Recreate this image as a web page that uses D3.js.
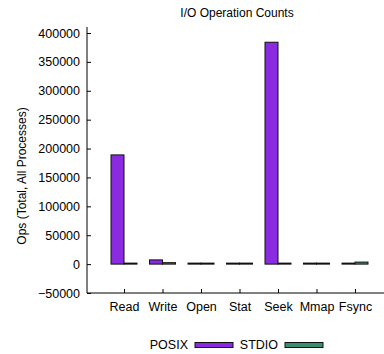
<!DOCTYPE html>
<html>
<head>
<meta charset="utf-8">
<script src="https://cdn.jsdelivr.net/npm/d3@7"></script>
<style>
  body { margin: 0; background: #fff; }
  svg { display: block; font-family: "Liberation Sans", Arial, sans-serif; }
</style>
</head>
<body>
<svg id="chart" width="384" height="354"></svg>
<script>
const categories = ['Read', 'Write', 'Open', 'Stat', 'Seek', 'Mmap', 'Fsync'];
const posixOps = [189000, 7300, 0, 0, 384000, 0, 0];
const stdioOps = [0, 2500, 0, 0, 0, 0, 3500];
const yTicks = [-50000, 0, 50000, 100000, 150000, 200000, 250000, 300000, 350000, 400000];
const seriesNames = ['POSIX', 'STDIO'];
const seriesColors = ['#8a2be2', '#3a8d6e'];

const svg = d3.select('#chart');
const W = 384;
const axisX = 87, axisY = 293;

const x = d3.scaleLinear().domain([0, categories.length - 1]).range([124, 355]);
const y = d3.scaleLinear().domain([-50000, 400000]).range([293, 33]);
const barW = 13;

// title
svg.append('text')
    .attr('x', 237).attr('y', 17)
    .attr('text-anchor', 'middle')
    .attr('font-size', 12)
    .text('I/O Operation Counts');

// y axis label
svg.append('text')
    .attr('transform', `translate(26, 176) rotate(-90)`)
    .attr('text-anchor', 'middle')
    .attr('font-size', 12)
    .text('Ops (Total, All Processes)');

// y axis, ticks point inward
const yAxis = svg.append('g').attr('transform', `translate(${axisX},0)`)
    .call(d3.axisRight(y).tickValues(yTicks).tickSize(4).tickFormat(d => d < 0 ? '\u2212' + Math.abs(d) : d));
yAxis.select('.domain').attr('d', `M0,${y.range()[1] - 6}V${axisY}`);
yAxis.selectAll('text')
    .attr('x', -7).attr('text-anchor', 'end')
    .attr('font-size', 12.5).attr('font-family', '"Liberation Sans", Arial, sans-serif');

// x axis
const xAxis = svg.append('g').attr('transform', `translate(0,${axisY})`)
    .call(d3.axisTop(x).tickValues(d3.range(categories.length)).tickSize(4).tickFormat(i => categories[i]));
xAxis.select('.domain').attr('d', `M${axisX},0H${W}`);
xAxis.selectAll('text')
    .attr('y', 14).attr('dy', '0.32em')
    .attr('font-size', 12.5).attr('font-family', '"Liberation Sans", Arial, sans-serif');

// bars (zero-height bars still show their outline, as in gnuplot)
const series = [posixOps, stdioOps];
series.forEach((vals, s) => {
    svg.append('g').selectAll('rect')
        .data(vals)
        .join('rect')
        .attr('x', (d, i) => x(i) - barW + s * barW)
        .attr('y', d => Math.min(y(d), y(0) - 1))
        .attr('width', barW)
        .attr('height', d => Math.max(1, y(0) - y(d)))
        .attr('fill', seriesColors[s])
        .attr('stroke', '#111')
        .attr('stroke-width', 1);
});

// legend
const legend = [
    { name: seriesNames[0], tx: 188, sx: 195 },
    { name: seriesNames[1], tx: 278, sx: 285 }
];
legend.forEach((l, i) => {
    svg.append('text')
        .attr('x', l.tx).attr('y', 349)
        .attr('text-anchor', 'end')
        .attr('font-size', 12.5)
        .text(l.name);
    svg.append('rect')
        .attr('x', l.sx).attr('y', 342.5)
        .attr('width', 38).attr('height', 5)
        .attr('fill', seriesColors[i])
        .attr('stroke', '#111').attr('stroke-width', 1);
});
</script>
</body>
</html>
